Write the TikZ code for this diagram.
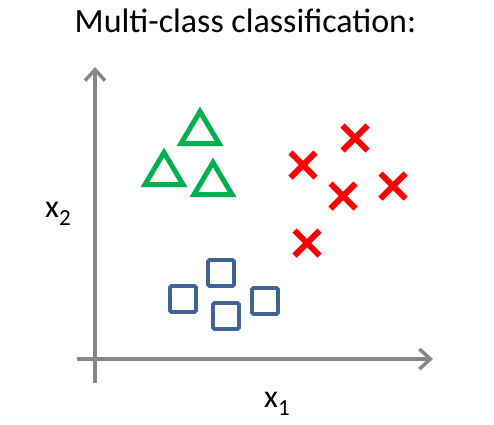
\documentclass[tikz,border=0pt]{standalone}
\usepackage{fontspec}
\setmainfont{Carlito}
\usetikzlibrary{arrows.meta}
\definecolor{axisgray}{HTML}{878787}
\definecolor{triGreen}{HTML}{00B050}
\definecolor{sqBlue}{HTML}{3F6495}
\definecolor{crossRed}{HTML}{FF0000}
\tikzset{
  axisline/.style={draw=axisgray, line width=4pt, -{Straight Barb[length=11pt,width=20pt,line width=3.5pt]}},
  trimark/.style={draw=triGreen, line width=5pt, line join=miter},
  sqmark/.style={draw=sqBlue, line width=3.6pt, rounded corners=1.5pt},
  crossmark/.style={draw=crossRed, line width=6pt},
  lbl/.style={inner sep=0pt, font=\fontsize{32}{36}\selectfont},
  titlelbl/.style={inner sep=0pt, font=\fontsize{34}{38}\selectfont}
}
\begin{document}
\begin{tikzpicture}[x=1pt,y=-1pt]
\useasboundingbox (0,0) rectangle (494,424);
% title
\node[titlelbl, anchor=base] (title) at (245.5,32) {Multi-class classification:};
% axes
\coordinate (yb) at (95,383);
\coordinate (yt) at (95,67);
\coordinate (xl) at (77,359);
\coordinate (xr) at (433,359);
\draw[axisline] (yb) -- (yt);
\draw[axisline] (xl) -- (xr);
\node[lbl, anchor=base] (x1) at (277,407) {x\raisebox{-0.28em}{\fontsize{23}{25}\selectfont 1}};
\node[lbl, anchor=base] (x2) at (58,217) {x\raisebox{-0.28em}{\fontsize{23}{25}\selectfont 2}};
% triangles (base centre)
\foreach \bx/\by in {200/143.5, 164/184.5, 213/194.5}{
  \draw[trimark] (\bx-19,\by) -- (\bx+19,\by) -- (\bx,\by-32) -- cycle;
}
% crosses
\foreach \cx/\cy in {355/138, 303/165, 343/196, 393/186, 307/243}{
  \draw[crossmark] (\cx-12.5,\cy-12.5) -- (\cx+12.5,\cy+12.5);
  \draw[crossmark] (\cx-12.5,\cy+12.5) -- (\cx+12.5,\cy-12.5);
}
% squares
\foreach \sx/\sy in {183/299, 221/273, 226/316, 265/301}{
  \draw[sqmark] (\sx-13,\sy-13) rectangle (\sx+13,\sy+13);
}
\end{tikzpicture}
\end{document}
